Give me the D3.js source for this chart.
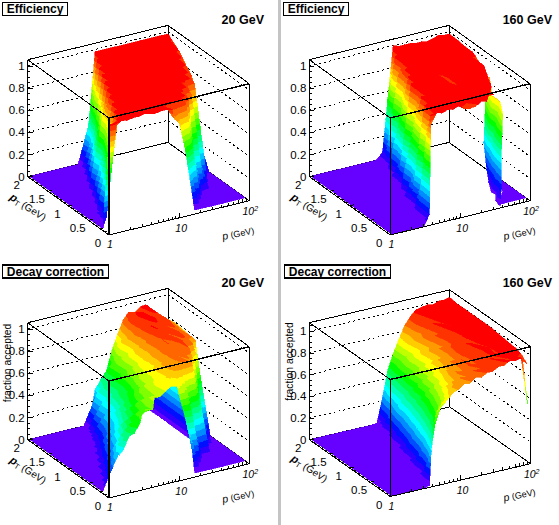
<!DOCTYPE html>
<html><head><meta charset="utf-8">
<script src="https://cdn.jsdelivr.net/npm/d3@7"></script>
<style>html,body{margin:0;background:#fff}svg{display:block}text{font-family:"Liberation Sans",Arial,sans-serif;fill:#000}</style>
</head><body><svg id="c" width="559" height="525"></svg>
<script>
const _=null;
// momentum bin centres (GeV) and pT bin edges (GeV)
const pGrid=[1.06,1.2,1.45,1.74,2.09,2.51,3.02,3.63,4.37,5.25,6.31,7.59,9.12,10.96,13.18,15.85,19.05,22.9,27.5,33.1,39.8,47.9,57.5,69.2,83.2,100];
const pTGrid=[0,.1,.2,.3,.4,.6,.8,1,1.2,1.4,1.6,1.8,2];
// surface heights in percent, one row per pT bin, one column per p bin
const efficiency20=[
[_,_,_,_,_,_,_,_,_,_,_,_,_,_,_,_,_,_,_,_,_,_,_,_,_,_],
[_,96,97,97,96,97,97,98,97,96,97,97,96,_,_,_,0,0,0,0,0,0,0,0,0,0],
[0,10,88,97,96,97,97,97,96,97,97,97,93,84,78,55,30,0,0,0,0,0,0,0,0,0],
[0,0,25,85,97,97,97,97,97,97,97,97,97,97,97,97,88,50,0,0,0,0,0,0,0,0],
[0,0,10,60,97,97,97,97,97,97,97,97,97,97,97,97,97,92,40,0,0,0,0,0,0,0],
[0,0,0,5,55,97,97,97,97,97,97,97,97,97,97,97,97,97,95,88,35,0,0,0,0,0],
[0,0,0,0,2,50,97,97,97,97,97,97,97,97,97,97,97,97,97,97,96,90,5,0,0,0],
[0,0,0,0,0,0,70,97,97,97,97,97,97,97,97,97,97,97,97,97,97,96,90,35,0,0],
[0,0,0,0,0,0,0,60,97,97,97,97,97,97,97,97,97,97,97,97,97,97,96,88,35,5],
[0,0,0,0,0,0,0,0,45,97,97,97,97,97,97,97,97,97,97,97,97,97,97,95,85,50],
[0,0,0,0,0,0,0,0,0,40,97,97,97,97,97,97,97,97,97,97,97,97,97,97,95,80],
[0,0,0,0,0,0,0,0,0,0,50,98,98,98,98,98,98,98,98,98,98,98,98,98,98,92],
[0,0,0,0,0,0,0,0,0,0,0,40,98,98,98,98,98,98,98,98,98,98,98,98,98,98]];
const efficiency160=[
[0,0,0,0,0,0,0,10,_,_,_,_,_,_,_,_,_,_,_,_,_,_,_,_,_,_],
[0,0,0,0,0,0,0,3,96,97,95,97,96,98,94,93,94,97,96,_,_,_,_,_,_,_],
[0,0,0,0,0,0,0,0,77,97,96,97,97,97,96,95,96,97,97,97,97,_,_,_,_,_],
[0,0,0,0,0,0,0,0,35,97,97,96,97,97,97,96,97,97,96,97,97,_,_,_,_,_],
[0,0,0,0,0,0,0,0,0,95,97,97,97,97,96,97,97,97,97,97,97,97,_,_,_,_],
[0,0,0,0,0,0,0,0,0,33,97,96,97,97,97,97,96,97,97,97,97,97,97,_,_,_],
[0,0,0,0,0,0,0,0,0,0,65,97,97,97,97,96,97,94,97,96,97,97,97,97,_,_],
[0,0,0,0,0,0,0,0,0,0,0,97,97,96,97,97,97,94,97,97,96,97,97,97,97,_],
[0,0,0,0,0,0,0,0,0,0,0,25,97,97,97,97,96,97,97,97,97,97,97,96,97,90],
[0,0,0,0,0,0,0,0,0,0,0,0,55,97,97,97,97,97,97,97,97,97,97,97,97,97],
[0,0,0,0,0,0,0,0,0,0,0,0,0,85,97,97,96,97,97,98,97,97,96,97,97,97],
[0,0,0,0,0,0,0,0,0,0,0,0,0,20,97,98,97,98,98,97,98,98,98,97,98,98],
[0,0,0,0,0,0,0,0,0,0,0,0,0,0,50,100,98,98,98,97,97,96,97,99,98,98]];
const decay20=[
[_,_,_,_,_,_,_,_,_,_,_,_,_,_,_,_,_,_,_,_,_,_,_,_,_,_],
[_,_,_,_,_,_,_,_,_,_,_,_,_,_,_,_,0,0,0,0,0,0,0,0,0,0],
[0,8,19,29,33,44,46,54,_,_,_,_,_,_,_,_,30,0,0,0,0,0,0,0,0,0],
[0,0,12,25,37,41,52,52,57,61,60,_,_,_,_,_,40,45,0,0,0,0,0,0,0,0],
[0,0,4,15,27,40,44,51,57,56,62,68,66,70,73,72,68,60,32,0,0,0,0,0,0,0],
[0,0,0,2,14,22,33,44,45,54,60,61,66,72,74,76,82,84,86,84,60,0,0,0,0,0],
[0,0,0,0,1,12,24,30,38,47,50,58,65,68,71,79,83,86,85,88,90,75,30,0,0,0],
[0,0,0,0,0,0,10,22,28,37,46,51,56,67,71,74,83,87,90,87,92,88,87,70,0,0],
[0,0,0,0,0,0,0,8,18,30,35,46,50,60,70,76,81,89,90,93,88,93,88,87,82,10],
[0,0,0,0,0,0,0,0,8,24,28,42,46,58,63,76,83,86,96,92,94,88,90,85,82,76],
[0,0,0,0,0,0,0,0,0,8,28,34,47,52,65,70,84,90,92,96,95,92,92,87,82,78],
[0,0,0,0,0,0,0,0,0,0,5,34,40,54,60,74,80,92,95,97,93,96,90,87,83,79],
[0,0,0,0,0,0,0,0,0,0,0,1,30,38,44,62,75,87,93,91,95,96,90,84,80,77]];
const decay160=[
[0,0,0,0,0,0,0,2,_,_,_,_,_,_,_,_,_,_,_,_,_,_,_,_,_,_],
[0,0,0,0,0,0,0,0,30,65,72,74,79,81,85,84,88,87,90,90,93,93,96,95,96,90],
[0,0,0,0,0,0,0,0,15,45,62,70,76,83,82,87,87,91,90,93,92,96,94,97,95,94],
[0,0,0,0,0,0,0,0,5,33,52,63,72,78,84,83,89,87,92,90,95,93,97,95,97,96],
[0,0,0,0,0,0,0,0,0,25,44,56,66,76,78,86,85,91,89,94,92,96,94,98,96,97],
[0,0,0,0,0,0,0,0,0,10,33,47,58,67,75,83,83,90,89,95,93,97,95,97,98,98],
[0,0,0,0,0,0,0,0,0,0,22,38,50,62,67,77,84,84,92,90,96,94,98,96,98,99],
[0,0,0,0,0,0,0,0,0,0,10,30,45,52,66,70,81,82,90,93,92,97,95,99,97,100],
[0,0,0,0,0,0,0,0,0,0,0,20,37,51,58,71,74,84,85,93,92,98,96,99,98,100],
[0,0,0,0,0,0,0,0,0,0,0,10,34,43,59,64,77,80,90,90,97,95,99,97,100,100],
[0,0,0,0,0,0,0,0,0,0,0,0,22,40,53,66,72,84,87,95,94,99,96,99,100,100],
[0,0,0,0,0,0,0,0,0,0,0,0,8,35,52,61,76,82,93,93,98,96,100,98,100,100],
[0,0,0,0,0,0,0,0,0,0,0,0,0,22,48,62,74,85,92,97,98,99,98,100,100,101]];
// extra sheets that lie behind the main surface
const wallDecay20P=[52.5,63.1];
const wallDecay20PT=[.9,1.2,1.5,1.8,2];
const wallDecay20=[[1,40],[1,40],[1,40],[1,40],[1,40]];
const stripP=[39.8,47.9,57.5,69.2,83.2,100];
const stripPT=[.04,.16,.3,.4,.6,.8,1,1.1];
const strip160=[
[0,_,_,_,_,_],
[2,12,_,_,_,_],
[_,3,30,_,_,_],
[_,2,24,70,_,_],
[_,_,4,45,75,_],
[_,_,_,12,75,_],
[_,_,_,_,27,85],
[_,_,_,_,_,60]];
const floorPT=[.1,.2,.3,.4,.6,.8];
const floor160=[
[0,0,0,0,0,0],
[_,0,0,0,0,0],
[_,_,0,0,0,0],
[_,_,_,0,0,0],
[_,_,_,_,0,0],
[_,_,_,_,_,0]];
const tipP=[90,93];
const tipPT=[0,.16];
const tip160=[[56,_],[95,96]];

const zTicks=[0,.2,.4,.6,.8,1];
const pTTicks=[0,.5,1,1.5,2];
const pTicks=[1,10,100];
const palette=["#6600ff","#2b00ff","#000fff","#004dff","#008cff","#00c8ff","#00ffff","#00ffbf","#00ff80","#00ff40","#00ff00","#40ff00","#80ff00","#bfff00","#ffff00","#ffcc00","#ff9900","#ff6600","#ff3300","#ff0000"];
const levels=d3.range(1,20).map(k=>k*5);

const panels=[
 {grid:efficiency20,title:"Efficiency",energy:"20 GeV",F:[109,235],R:[249.3,200.7],L:[27.7,176.7],h:117,zMax:1.057,box:[2.5,2.5,65,13],eX:264,eY:24},
 {grid:efficiency160,title:"Efficiency",energy:"160 GeV",F:[390.3,235],R:[530,200.7],L:[309.3,176.7],h:117,zMax:1.057,box:[283.5,2.5,65,13],eX:552,eY:24,
  sheets:[[stripP,floorPT,floor160],[stripP,stripPT,strip160]]},
 {grid:decay20,title:"Decay correction",energy:"20 GeV",F:[109,498],R:[249.3,463.7],L:[27.7,439.7],h:117,zMax:1.057,box:[2.5,265,106,13],eX:264,eY:287,frac:11,
  sheets:[[wallDecay20P,wallDecay20PT,wallDecay20]]},
 {grid:decay160,title:"Decay correction",energy:"160 GeV",F:[390.3,496.5],R:[530.7,463.7],L:[309.3,439.7],h:117,zMax:1.08,box:[284.5,265,106,13],eX:552,eY:287,frac:293,
  sheets:[[tipP,tipPT,tip160]]}
];
const svg=d3.select("#c");
svg.append("rect").attr("x",278).attr("y",0).attr("width",3).attr("height",525).attr("fill","#c4c4c4");

function clip(poly,lo,hi){
  const cut=(pts,keep,val)=>{const out=[];pts.forEach((a,i)=>{const b=pts[(i+1)%pts.length];const ka=keep(a[2]),kb=keep(b[2]);
    if(ka)out.push(a);
    if(ka!==kb){const t=(val-a[2])/(b[2]-a[2]);out.push([a[0]+t*(b[0]-a[0]),a[1]+t*(b[1]-a[1]),val]);}});return out;};
  let r=poly;
  if(lo>-Infinity)r=cut(r,z=>z>=lo,lo);
  if(r.length&&hi<Infinity)r=cut(r,z=>z<hi,hi);
  return r;
}
const bands=palette.map((c,k)=>[k?levels[k-1]:-Infinity,k<levels.length?levels[k]:Infinity,c]);

panels.forEach(P=>{
  const g=svg.append("g");
  const uS=d3.scaleLog().domain([1,100]).range([0,1]);
  const vS=d3.scaleLinear().domain([0,2]).range([0,1]);
  const zS=d3.scaleLinear().domain([0,P.zMax]).range([0,P.h]);
  const pr=(p,t,z)=>{const u=uS(p),v=vS(t);return [P.F[0]+u*(P.R[0]-P.F[0])+v*(P.L[0]-P.F[0]),P.F[1]+u*(P.R[1]-P.F[1])+v*(P.L[1]-P.F[1])-zS(z)];};
  const line=(a,b,w,dash)=>g.append("line").attr("x1",a[0]).attr("y1",a[1]).attr("x2",b[0]).attr("y2",b[1]).attr("stroke","#000").attr("stroke-width",w||1).attr("stroke-dasharray",dash||null).attr("shape-rendering","crispEdges");
  const zt=P.zMax;
  line(pr(1,2,0),pr(100,2,0));line(pr(100,2,0),pr(100,0,0));
  line(pr(1,2,0),pr(1,2,zt));line(pr(100,2,0),pr(100,2,zt));line(pr(100,0,0),pr(100,0,zt));
  line(pr(1,2,zt),pr(100,2,zt));line(pr(100,2,zt),pr(100,0,zt));
  zTicks.slice(1).forEach(z=>{line(pr(1,2,z),pr(100,2,z),1,"2 3");line(pr(100,2,z),pr(100,0,z),1,"2 3");});
  const polys=[];
  const addMesh=(ps,ts,grid)=>{
    for(let j=ts.length-2;j>=0;j--)for(let i=ps.length-2;i>=0;i--){
      const c=(a,b)=>grid[b][a]==null?null:[...pr(ps[a],ts[b],grid[b][a]/100),grid[b][a]];
      const a=c(i,j),b=c(i+1,j),d=c(i,j+1),e=c(i+1,j+1);
      const tris=[];
      if(e&&b&&d)tris.push([e,b,d]);
      if(a&&b&&d)tris.push([a,b,d]);
      if(!tris.length){ if(a&&b&&e)tris.push([a,b,e]); if(a&&d&&e)tris.push([a,d,e]); }
      tris.forEach(t=>bands.forEach(([lo,hi,col])=>{const q=clip(t,lo,hi);if(q.length>2)polys.push({q,col});}));
    }
  };
  (P.sheets||[]).forEach(s=>addMesh(s[0],s[1],s[2]));
  addMesh(pGrid,pTGrid,P.grid);
  g.append("g").selectAll("path").data(polys).join("path")
    .attr("d",d=>"M"+d.q.map(p=>p[0].toFixed(2)+","+p[1].toFixed(2)).join("L")+"Z")
    .attr("fill",d=>d.col).attr("stroke",d=>d.col).attr("stroke-width",.6).attr("shape-rendering","crispEdges");
  line(pr(1,0,0),pr(1,0,zt),1.4);line(pr(1,0,zt),pr(100,0,zt),1.4);line(pr(1,0,zt),pr(1,2,zt));
  line(pr(1,0,0),pr(100,0,0));line(pr(1,0,0),pr(1,2,0));
  uS.ticks().forEach(p=>{const a=pr(p,0,0);line(a,[a[0],a[1]-(pTicks.includes(p)?5:3)]);});
  vS.ticks(20).forEach(t=>{const a=pr(1,t,0);const maj=pTTicks.includes(t);line(a,[a[0]+(maj?4:2),a[1]-(maj?1:.5)]);});
  zS.ticks(25).forEach(z=>{const a=pr(1,2,z);line(a,[a[0]+(zTicks.includes(z)?5:2.5),a[1]]);});
  const T=(x,y,s,o={})=>g.append("text").attr("x",x).attr("y",y).attr("font-size",o.size||11.5).attr("text-anchor",o.anchor||"middle").attr("font-weight",o.bold?"bold":null).attr("font-style",o.italic?"italic":null).attr("transform",o.rot!=null?`rotate(${o.rot} ${x} ${y})`:null).text(s);
  zTicks.forEach(z=>{const a=pr(1,2,z);T(a[0]-3,a[1]+4,d3.format("~g")(z),{anchor:"end"});});
  pTTicks.forEach(t=>{const a=pr(1,t,0);T(a[0]-11,a[1]+12,d3.format("~g")(t));});
  pTicks.forEach(p=>{const a=pr(p,0,0);
    const el=T(a[0]+(p==100?1:p==10?2:1),a[1]+(p==1?13:14),p==100?"10":String(p),{italic:true,size:10.5});
    if(p==100)el.append("tspan").attr("dy",-4).attr("font-size",7).text("2");});
  const F=P.F;
  const a1=g.append("text").attr("transform",`translate(${F[0]+114},${F[1]+5}) rotate(-12)`).attr("font-size",9);
  a1.append("tspan").attr("font-size",10.5).attr("font-style","italic").text("p");a1.append("tspan").text(" (GeV)");
  const a2=g.append("text").attr("transform",`translate(${F[0]-100},${F[1]-36}) rotate(33)`).attr("font-size",10);
  a2.append("tspan").attr("font-size",11).attr("font-style","italic").attr("font-weight","bold").text("p");
  a2.append("tspan").attr("font-size",7.5).attr("dy",2).text("T");a2.append("tspan").attr("dy",-2).text(" (GeV)");
  if(P.frac)T(P.frac,F[1]-135,"fraction accepted",{size:10.3,rot:-90});
  g.append("rect").attr("x",P.box[0]).attr("y",P.box[1]).attr("width",P.box[2]).attr("height",P.box[3]).attr("fill","#fff").attr("stroke","#000").attr("stroke-width",1.2).attr("shape-rendering","crispEdges");
  T(P.box[0]+P.box[2]/2,P.box[1]+10.5,P.title,{bold:true,size:12});
  T(P.eX,P.eY,P.energy,{bold:true,size:12.5,anchor:"end"});
});
</script></body></html>
